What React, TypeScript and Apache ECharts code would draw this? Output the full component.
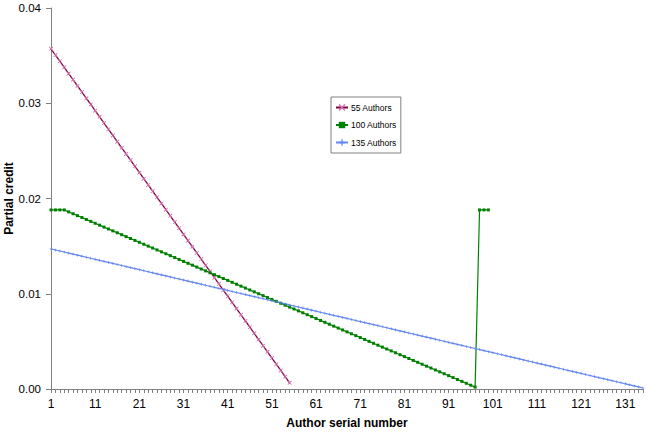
import React, { useEffect, useRef } from "react";
import * as echarts from "echarts";

const categories: string[] = Array.from({ length: 135 }, (_, i) => String(i + 1));

const seriesNames = ["55 Authors", "100 Authors", "135 Authors"];

const authors55: number[] = [
  0.03571, 0.03506, 0.03442, 0.03377, 0.03312, 0.03247, 0.03182, 0.03117, 0.03052, 0.02987,
  0.02922, 0.02857, 0.02792, 0.02727, 0.02662, 0.02597, 0.02532, 0.02468, 0.02403, 0.02338,
  0.02273, 0.02208, 0.02143, 0.02078, 0.02013, 0.01948, 0.01883, 0.01818, 0.01753, 0.01688,
  0.01623, 0.01558, 0.01494, 0.01429, 0.01364, 0.01299, 0.01234, 0.01169, 0.01104, 0.01039,
  0.00974, 0.00909, 0.00844, 0.00779, 0.00714, 0.00649, 0.00584, 0.00519, 0.00455, 0.0039,
  0.00325, 0.0026, 0.00195, 0.0013, 0.00065,
];

const authors100: number[] = [
  0.0188, 0.0188, 0.0188, 0.0188,
  0.0186, 0.0184, 0.0182, 0.018, 0.0178, 0.0176, 0.0174, 0.0172, 0.017, 0.0168,
  0.0166, 0.0164, 0.0162, 0.016, 0.0158, 0.0156, 0.0154, 0.0152, 0.015, 0.0148,
  0.0146, 0.0144, 0.0142, 0.014, 0.0138, 0.0136, 0.0134, 0.0132, 0.013, 0.0128,
  0.0126, 0.0124, 0.0122, 0.012, 0.0118, 0.0116, 0.0114, 0.0112, 0.011, 0.0108,
  0.0106, 0.0104, 0.0102, 0.01, 0.0098, 0.0096, 0.0094, 0.0092, 0.009, 0.0088,
  0.0086, 0.0084, 0.0082, 0.008, 0.0078, 0.0076, 0.0074, 0.0072, 0.007, 0.0068,
  0.0066, 0.0064, 0.0062, 0.006, 0.0058, 0.0056, 0.0054, 0.0052, 0.005, 0.0048,
  0.0046, 0.0044, 0.0042, 0.004, 0.0038, 0.0036, 0.0034, 0.0032, 0.003, 0.0028,
  0.0026, 0.0024, 0.0022, 0.002, 0.0018, 0.0016, 0.0014, 0.0012, 0.001, 0.0008,
  0.0006, 0.0004, 0.0002,
  0.0188, 0.0188, 0.0188,
];

const authors135: number[] = [
  0.014706, 0.014597, 0.014488, 0.014379, 0.01427, 0.014161, 0.014052, 0.013943, 0.013834, 0.013725,
  0.013617, 0.013508, 0.013399, 0.01329, 0.013181, 0.013072, 0.012963, 0.012854, 0.012745, 0.012636,
  0.012527, 0.012418, 0.012309, 0.0122, 0.012091, 0.011983, 0.011874, 0.011765, 0.011656, 0.011547,
  0.011438, 0.011329, 0.01122, 0.011111, 0.011002, 0.010893, 0.010784, 0.010675, 0.010566, 0.010458,
  0.010349, 0.01024, 0.010131, 0.010022, 0.009913, 0.009804, 0.009695, 0.009586, 0.009477, 0.009368,
  0.009259, 0.00915, 0.009041, 0.008932, 0.008824, 0.008715, 0.008606, 0.008497, 0.008388, 0.008279,
  0.00817, 0.008061, 0.007952, 0.007843, 0.007734, 0.007625, 0.007516, 0.007407, 0.007298, 0.00719,
  0.007081, 0.006972, 0.006863, 0.006754, 0.006645, 0.006536, 0.006427, 0.006318, 0.006209, 0.0061,
  0.005991, 0.005882, 0.005773, 0.005664, 0.005556, 0.005447, 0.005338, 0.005229, 0.00512, 0.005011,
  0.004902, 0.004793, 0.004684, 0.004575, 0.004466, 0.004357, 0.004248, 0.004139, 0.004031, 0.003922,
  0.003813, 0.003704, 0.003595, 0.003486, 0.003377, 0.003268, 0.003159, 0.00305, 0.002941, 0.002832,
  0.002723, 0.002614, 0.002505, 0.002397, 0.002288, 0.002179, 0.00207, 0.001961, 0.001852, 0.001743,
  0.001634, 0.001525, 0.001416, 0.001307, 0.001198, 0.001089, 0.00098, 0.000871, 0.000763, 0.000654,
  0.000545, 0.000436, 0.000327, 0.000218, 0.000109,
];

const xSymbol = "path://M0,0L1.5,0L10,8.5L10,10L8.5,10L0,1.5ZM10,0L10,1.5L1.5,10L0,10L0,8.5L8.5,0Z";
const plusSymbol = "path://M4,0L6,0L6,4L10,4L10,6L6,6L6,10L4,10L4,6L0,6L0,4L4,4Z";

export default function App() {
  const ref = useRef<HTMLDivElement>(null);
  useEffect(() => {
    if (!ref.current) return;
    const chart = echarts.init(ref.current, undefined, { renderer: "svg" });
    const font = "Arial, 'Liberation Sans', sans-serif";
    chart.setOption({
      animation: false,
      backgroundColor: "#ffffff",
      textStyle: { fontFamily: font },
      grid: {
        left: 51,
        right: 4,
        top: 8,
        bottom: 45,
        containLabel: false,
        outerBoundsMode: "none",
      },
      legend: {
        orient: "vertical",
        left: 331,
        top: 97,
        padding: [6, 4, 6, 4],
        itemGap: 8.5,
        itemWidth: 12,
        itemHeight: 8,
        backgroundColor: "#ffffff",
        borderColor: "#808080",
        borderWidth: 1,
        borderRadius: 0,
        textStyle: { fontSize: 8.5, color: "#000", fontFamily: font, padding: [0, 0, 0, -2] },
        data: seriesNames,
      },
      xAxis: {
        type: "category",
        data: categories,
        boundaryGap: false,
        name: "Author serial number",
        nameLocation: "middle",
        nameGap: 28,
        nameMoveOverlap: false,
        nameTextStyle: { fontSize: 12, fontWeight: "bold", color: "#000", fontFamily: font },
        axisLine: { lineStyle: { color: "#808080", width: 1 } },
        axisTick: { interval: 0, length: 4, lineStyle: { color: "#808080" } },
        axisLabel: { interval: 9, fontSize: 12, color: "#000", margin: 9, fontFamily: font },
        splitLine: { show: false },
      },
      yAxis: {
        type: "value",
        min: 0,
        max: 0.04,
        interval: 0.01,
        name: "Partial credit",
        nameLocation: "middle",
        nameGap: 36,
        nameMoveOverlap: false,
        nameTextStyle: { fontSize: 12, fontWeight: "bold", color: "#000", fontFamily: font },
        axisLine: { show: true, lineStyle: { color: "#808080", width: 1 } },
        axisTick: { show: true, length: 5, lineStyle: { color: "#808080" } },
        axisLabel: {
          fontSize: 11.5,
          color: "#000",
          margin: 10,
          fontFamily: font,
          formatter: (v: number) => v.toFixed(2),
        },
        splitLine: { show: false },
      },
      series: [
        {
          name: seriesNames[0],
          type: "line",
          data: authors55,
          color: "#993366",
          showAllSymbol: true,
          lineStyle: { color: "#800040", width: 1.3 },
          symbol: xSymbol,
          symbolSize: 4,
          itemStyle: { color: "#d070b0", borderWidth: 0 },
        },
        {
          name: seriesNames[1],
          type: "line",
          data: authors100,
          color: "#008000",
          showAllSymbol: true,
          lineStyle: { color: "#008000", width: 1.2 },
          symbol: "rect",
          symbolSize: 3,
          itemStyle: { color: "#008000", borderWidth: 0 },
        },
        {
          name: seriesNames[2],
          type: "line",
          data: authors135,
          color: "#6688ee",
          showAllSymbol: true,
          lineStyle: { color: "#6688ee", width: 1.2 },
          symbol: plusSymbol,
          symbolSize: 3,
          itemStyle: { color: "#6688ee", borderWidth: 0 },
        },
      ],
    });
    return () => chart.dispose();
  }, []);
  return (
    <div
      ref={ref}
      style={{ position: "absolute", left: 0, top: 0, width: 647, height: 434 }}
    />
  );
}
